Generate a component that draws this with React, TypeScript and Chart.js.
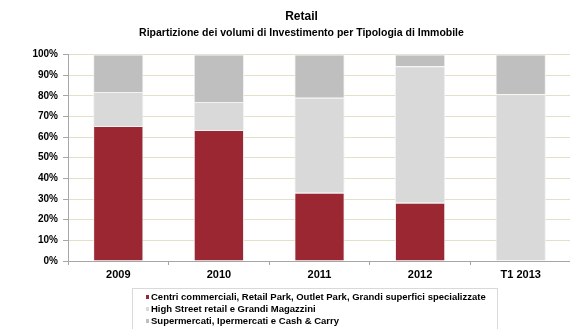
import React, { useEffect, useRef } from "react";
import { Chart, registerables } from "chart.js";

Chart.register(...registerables);

const categories = ["2009", "2010", "2011", "2012", "T1 2013"];
const seriesNames = [
  "Centri commerciali, Retail Park, Outlet Park, Grandi superfici specializzate",
  "High Street retail e Grandi Magazzini",
  "Supermercati, Ipermercati e Cash & Carry",
];
const centriCommerciali = [65.3, 63.4, 33.0, 28.2, 0];
const highStreet = [16.5, 13.6, 46.0, 66.1, 80.7];
const supermercati = [18.2, 23.0, 21.0, 5.7, 19.3];
const seriesColors = ["#9b2733", "#d9d9d9", "#bfbfbf"];
const titleText = "Retail";
const subtitleText = "Ripartizione dei volumi di Investimento per Tipologia di Immobile";

const FONT = "'Liberation Sans', Arial, sans-serif";

export default function App() {
  const canvasRef = useRef<HTMLCanvasElement | null>(null);

  useEffect(() => {
    if (!canvasRef.current) return;
    const values = [centriCommerciali, highStreet, supermercati];
    const chart = new Chart(canvasRef.current, {
      type: "bar",
      data: {
        labels: categories,
        datasets: seriesNames.map((name, i) => ({
          label: name,
          data: values[i],
          backgroundColor: seriesColors[i],
          borderColor: "#f2f2f2",
          borderWidth: 1,
          barPercentage: 0.5,
          categoryPercentage: 1,
        })),
      },
      options: {
        animation: false,
        responsive: false,
        maintainAspectRatio: false,
        layout: { padding: { left: 32, right: 9, top: 0, bottom: 48 } },
        plugins: {
          legend: { display: false },
          tooltip: { enabled: false },
          title: {
            display: true,
            text: titleText,
            color: "#000",
            font: { family: FONT, size: 12, weight: "bold", lineHeight: 1.2 },
            padding: { top: 9, bottom: 2 },
          },
          subtitle: {
            display: true,
            text: subtitleText,
            color: "#000",
            font: { family: FONT, size: 10.5, weight: "bold", lineHeight: 1.1 },
            padding: { top: 2, bottom: 15.5 },
          },
        },
        scales: {
          x: {
            stacked: true,
            grid: {
              display: true,
              drawOnChartArea: false,
              drawTicks: true,
              tickLength: 4,
              tickColor: "#a6a6a6",
              offset: true,
            },
            border: { display: true, color: "#a6a6a6", width: 1 },
            ticks: {
              color: "#000",
              font: { family: FONT, size: 11, weight: "bold" },
              padding: 3,
              maxRotation: 0,
            },
            afterFit: (scale: any) => {
              scale.height = 20;
            },
          },
          y: {
            stacked: true,
            min: 0,
            max: 100,
            grid: {
              color: "#e4e0c8",
              drawTicks: true,
              tickLength: 5,
              tickColor: "#a6a6a6",
            },
            border: { display: true, color: "#a6a6a6", width: 1 },
            ticks: {
              stepSize: 10,
              color: "#000",
              font: { family: FONT, size: 10, weight: "bold" },
              padding: 5,
              callback: (v: any) => `${v}%`,
            },
            afterFit: (scale: any) => {
              scale.width = 36;
            },
          },
        },
      },
    });
    return () => chart.destroy();
  }, []);

  return (
    <div style={{ position: "absolute", left: 0, top: 0, width: 580, height: 329, background: "#fff" }}>
      <canvas ref={canvasRef} width={580} height={329} style={{ display: "block" }} />
      <div
        style={{
          position: "absolute",
          left: 132,
          top: 288,
          width: 366,
          height: 50,
          border: "1px solid #d9d9d9",
          boxSizing: "border-box",
          fontFamily: FONT,
          fontWeight: "bold",
          fontSize: 9.5,
          color: "#000",
          paddingTop: 2,
          paddingLeft: 13,
        }}
      >
        {seriesNames.map((name, i) => (
          <div key={name} style={{ display: "flex", alignItems: "center", height: 12, lineHeight: "12px", whiteSpace: "nowrap" }}>
            <span style={{ display: "inline-block", width: 3, height: 4, background: seriesColors[i], marginRight: 2 }} />
            <span>{name}</span>
          </div>
        ))}
      </div>
    </div>
  );
}
